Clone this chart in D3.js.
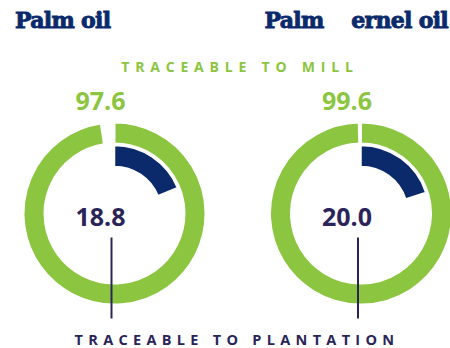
<!DOCTYPE html>
<html>
<head>
<meta charset="utf-8">
<script src="https://cdn.jsdelivr.net/npm/d3@7"></script>
<style>
  html, body { margin: 0; padding: 0; background: #fff; }
  svg { display: block; }
  text { white-space: pre; }
</style>
</head>
<body>
<div id="chart"></div>
<script>
// Traceability of palm products (%)
const products = ["Palm oil", "Palm    ernel oil"];
const millValues = [97.6, 99.6];
const plantationValues = [18.8, 20.0];
const captions = ["TRACEABLE TO MILL", "TRACEABLE TO PLANTATION"];

const W = 450, H = 348;
const GREEN = "#8cc540";
const NAVY = "#0b2a6c";
const INK = "#2a2459";

const svg = d3.select("#chart").append("svg")
  .attr("width", W).attr("height", H);

// donut centres
const cx = d3.scalePoint().domain(products).range([114.5, 361]);
const cy = 213.5;

// share of the full turn
const angle = d3.scaleLinear().domain([0, 100]).range([0, 2 * Math.PI]);

const millArc = d3.arc().innerRadius(70).outerRadius(91).startAngle(0);
const plantArc = d3.arc().innerRadius(47).outerRadius(68).startAngle(0);

const g = svg.selectAll("g.donut")
  .data(products.map((p, i) => ({ p, mill: millValues[i], plant: plantationValues[i] })))
  .join("g")
  .attr("class", "donut")
  .attr("transform", d => `translate(${cx(d.p)},${cy})`);

g.append("path")
  .attr("d", d => millArc({ endAngle: angle(d.mill) }))
  .attr("fill", GREEN)
  .attr("stroke", "#fff").attr("stroke-width", 2);

g.append("path")
  .attr("d", d => plantArc({ endAngle: angle(d.plant) }))
  .attr("fill", NAVY)
  .attr("stroke", "#fff").attr("stroke-width", 1.5);

// leader line down to the plantation caption
g.append("line")
  .attr("x1", -3).attr("x2", -3)
  .attr("y1", 24).attr("y2", 105)
  .attr("stroke", INK).attr("stroke-width", 2);

// mill value above each ring
g.append("text")
  .attr("x", -14).attr("y", -104)
  .attr("text-anchor", "middle")
  .attr("font-family", "'Open Sans', sans-serif")
  .attr("font-weight", 700)
  .attr("font-size", 25)
  .attr("fill", GREEN)
  .text(d => d.mill.toFixed(1));

// plantation value inside each ring
g.append("text")
  .attr("x", -14).attr("y", 12)
  .attr("text-anchor", "middle")
  .attr("font-family", "'Open Sans', sans-serif")
  .attr("font-weight", 700)
  .attr("font-size", 25)
  .attr("fill", INK)
  .text(d => d.plant.toFixed(1));

// product titles (heavy slab face)
svg.selectAll("text.title")
  .data(products)
  .join("text")
  .attr("class", "title")
  .attr("x", (d, i) => i === 0 ? 15 : 448)
  .attr("y", 28)
  .attr("text-anchor", (d, i) => i === 0 ? "start" : "end")
  .attr("font-family", "'DejaVu Serif', serif")
  .attr("font-weight", 700)
  .attr("font-size", 22)
  .attr("letter-spacing", -0.7)
  .attr("fill", NAVY)
  .attr("stroke", NAVY)
  .attr("stroke-width", 0.9)
  .text(d => d);

// captions
svg.append("text")
  .attr("x", 240).attr("y", 72)
  .attr("text-anchor", "middle")
  .attr("font-family", "'Open Sans', sans-serif")
  .attr("font-weight", 700)
  .attr("font-size", 14)
  .attr("letter-spacing", 5.8)
  .attr("fill", GREEN)
  .text(captions[0]);

svg.append("text")
  .attr("x", 237).attr("y", 345)
  .attr("text-anchor", "middle")
  .attr("font-family", "'Open Sans', sans-serif")
  .attr("font-weight", 700)
  .attr("font-size", 14.5)
  .attr("letter-spacing", 5.3)
  .attr("fill", INK)
  .text(captions[1]);
</script>
</body>
</html>
